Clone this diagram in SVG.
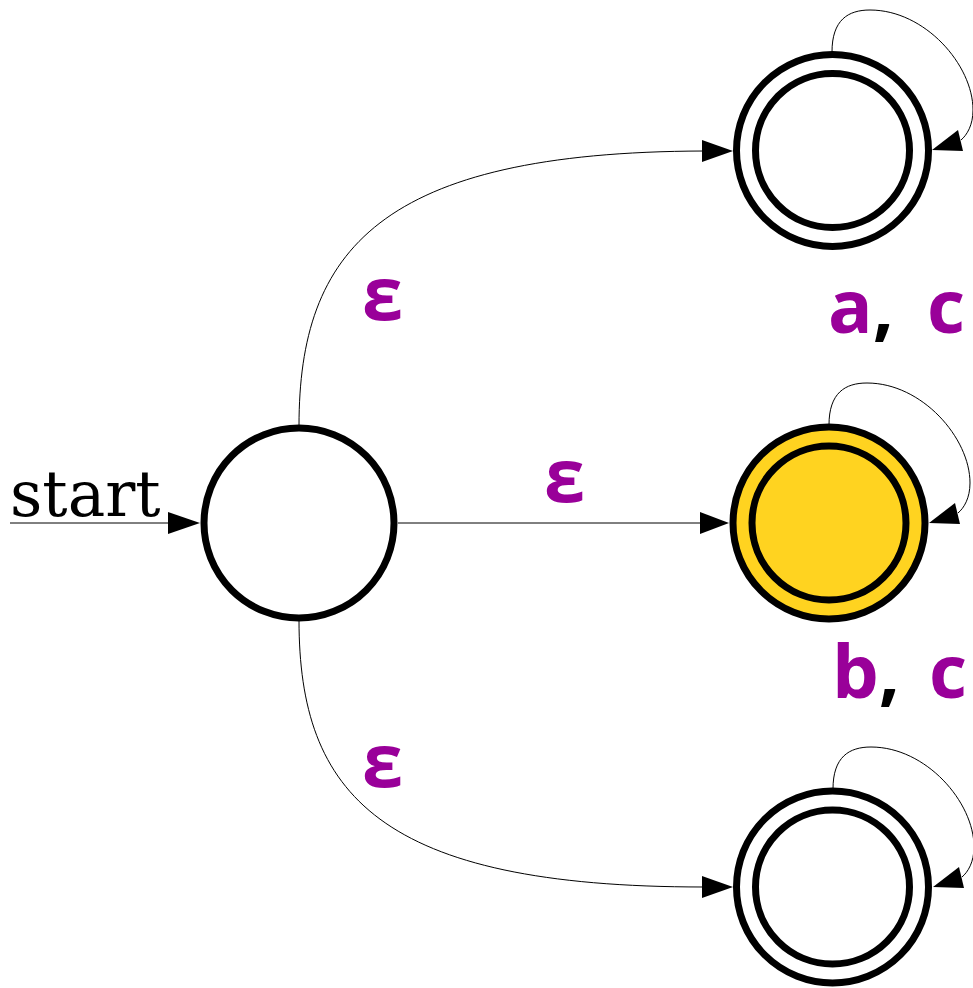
<svg xmlns="http://www.w3.org/2000/svg" width="973" height="988" viewBox="0 0 973 988">
<style>
.st{fill:#fff;stroke:#000;stroke-width:7}
.fin{fill:#ffd320}
.e{fill:none;stroke:#000;stroke-width:1}
.ah{fill:#000;stroke:none}
.lb{font-family:"Open Sans","Noto Sans","DejaVu Sans",sans-serif;font-weight:bold;font-size:74px;fill:#990099}
.cm{fill:#000}
.start{font-family:"DejaVu Serif","Liberation Serif",serif;font-size:63px;fill:#000}
</style>
<defs>
<path id="loop" class="e" d="M0,0 C0,-32 16,-42 38,-42 C93,-42 141,13 141,58 C141,73 135,83 129,88"/>
<polygon id="lah" class="ah" points="100,98 126,78 131,99"/>
</defs>
<rect width="973" height="988" fill="#fff"/>
<g id="connectors">
<line class="e" x1="10" y1="523" x2="170" y2="523"/>
<polygon class="ah" points="200,523 168,512 168,534"/>
<path class="e" d="M299,426 C299,250 380,152 704,151"/>
<polygon class="ah" points="733,151 702,140 702,162"/>
<line class="e" x1="398" y1="523" x2="702" y2="523"/>
<polygon class="ah" points="729,523 700,512 700,534"/>
<path class="e" d="M299,620 C299,795 380,887 704,887"/>
<polygon class="ah" points="733,887 702,876 702,898"/>
<use href="#loop" x="832" y="52"/>
<use href="#lah" x="832" y="52"/>
<use href="#loop" x="829" y="425"/>
<use href="#lah" x="829" y="425"/>
<use href="#loop" x="833" y="789"/>
<use href="#lah" x="833" y="789"/>
</g>
<text class="start" x="10" y="516">start</text>
<g id="q0"><circle class="st" cx="299" cy="523" r="95"/></g>
<g id="q1"><circle class="st" cx="832.5" cy="150.5" r="96"/><circle class="st" cx="832.5" cy="150.5" r="77"/></g>
<g id="q2"><circle class="st fin" cx="829" cy="523" r="96"/><circle class="st fin" cx="829" cy="523" r="77"/></g>
<g id="q3"><circle class="st" cx="832.5" cy="887" r="96"/><circle class="st" cx="832.5" cy="887" r="77"/></g>
<g id="labels">
<text class="lb" x="362" y="320">ε</text>
<text class="lb" x="544" y="502">ε</text>
<text class="lb" x="362" y="787">ε</text>
<text class="lb" y="333"><tspan x="828">a</tspan><tspan class="cm">,</tspan><tspan x="927">c</tspan></text>
<text class="lb" y="698"><tspan x="832">b</tspan><tspan class="cm">,</tspan><tspan x="929">c</tspan></text>
</g>
</svg>
